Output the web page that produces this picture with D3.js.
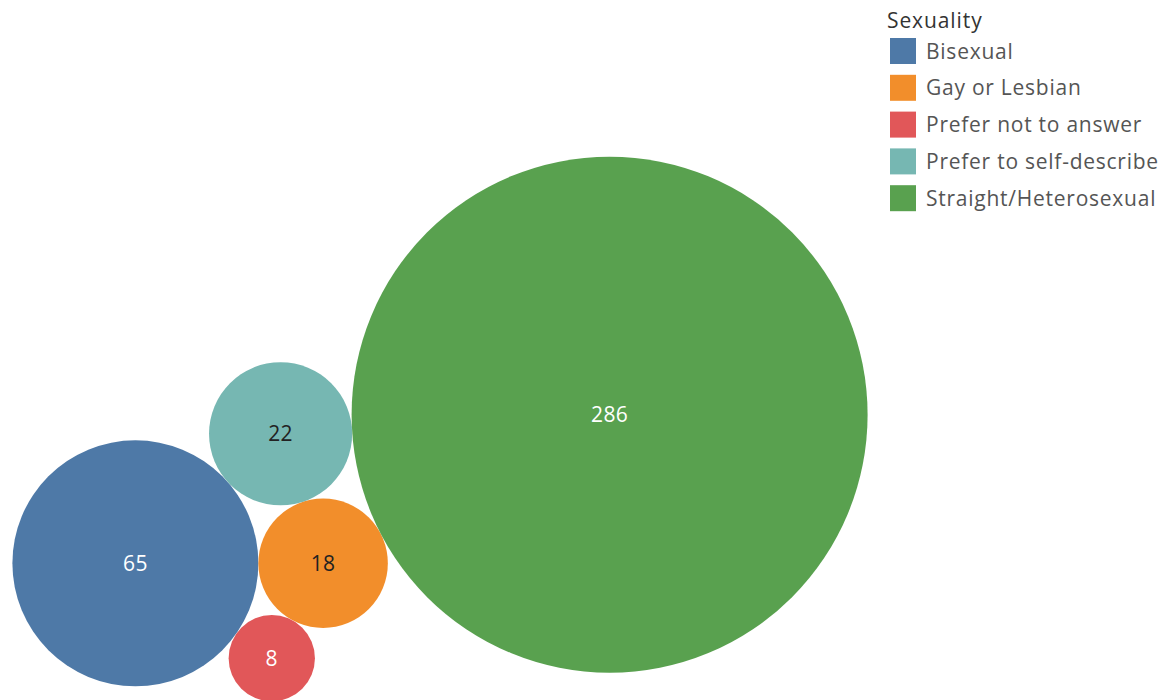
<!DOCTYPE html>
<html>
<head>
<meta charset="utf-8">
<script src="https://cdn.jsdelivr.net/npm/d3@7"></script>
<style>
  html, body { margin: 0; padding: 0; background: #fff; }
  svg { display: block; }
</style>
</head>
<body>
<svg id="chart" width="1166" height="700"></svg>
<script>
// Respondent counts by sexuality
const categories = ["Bisexual", "Gay or Lesbian", "Prefer not to answer", "Prefer to self-describe", "Straight/Heterosexual"];
const counts = [65, 18, 8, 22, 286];
const colors = ["#4e79a7", "#f28e2b", "#e15759", "#76b7b2", "#59a14f"];
const labelColors = ["#ffffff", "#222222", "#ffffff", "#222222", "#ffffff"];
const legendTitle = "Sexuality";

const svg = d3.select("#chart");
const FONT = "'Open Sans', Lato, sans-serif";

// Bubble area proportional to count
const rScale = d3.scaleSqrt().domain([0, d3.max(counts)]).range([0, 258]);

const nodes = categories.map((c, i) => ({
  name: c, value: counts[i], color: colors[i], label: labelColors[i], r: rScale(counts[i]), x: 0, y: 0
}));
const byName = Object.fromEntries(nodes.map(n => [n.name, n]));

// Place circle c tangent to circles a and b, on one side of the a->b direction
function placeTangent(a, b, c, side) {
  const dx = b.x - a.x, dy = b.y - a.y;
  const d = Math.hypot(dx, dy);
  const ra = a.r + c.r, rb = b.r + c.r;
  const along = (ra * ra - rb * rb + d * d) / (2 * d);
  const h = Math.sqrt(Math.max(0, ra * ra - along * along));
  const ux = dx / d, uy = dy / d;
  c.x = a.x + along * ux - side * h * uy;
  c.y = a.y + along * uy + side * h * ux;
}

// Packed-bubble arrangement: each bubble rests against two neighbours
const bi = byName["Bisexual"], gl = byName["Gay or Lesbian"], pn = byName["Prefer not to answer"],
      ps = byName["Prefer to self-describe"], st = byName["Straight/Heterosexual"];
bi.x = 0; bi.y = 0;
gl.x = bi.r + gl.r; gl.y = 0;
placeTangent(bi, gl, pn, 1);    // below the pair
placeTangent(bi, gl, ps, -1);   // above the pair
placeTangent(ps, gl, st, -1);   // to the right of the pair

// Centre the packed group within the plot region
const x0 = d3.min(nodes, d => d.x - d.r), x1 = d3.max(nodes, d => d.x + d.r);
const y0 = d3.min(nodes, d => d.y - d.r), y1 = d3.max(nodes, d => d.y + d.r);
const cx = 440, cy = 429;
const g = svg.append("g")
  .attr("transform", `translate(${cx - (x0 + x1) / 2},${cy - (y0 + y1) / 2})`);

const bubble = g.selectAll("g.bubble").data(nodes).join("g")
  .attr("class", "bubble")
  .attr("transform", d => `translate(${d.x},${d.y})`);

bubble.append("circle")
  .attr("r", d => d.r)
  .attr("fill", d => d.color);

bubble.append("text")
  .attr("text-anchor", "middle")
  .attr("dy", "0.36em")
  .attr("fill", d => d.label)
  .style("font-family", FONT)
  .style("font-size", "21px")
  .style("letter-spacing", "0.4px")
  .text(d => d.value);

// Legend
const legend = svg.append("g").attr("transform", "translate(887,0)");
legend.append("text")
  .attr("x", 0).attr("y", 28)
  .attr("fill", "#333")
  .style("font-family", FONT)
  .style("font-size", "21px")
  .style("letter-spacing", "0.9px")
  .text(legendTitle);

const row = legend.selectAll("g.item").data(nodes).join("g")
  .attr("class", "item")
  .attr("transform", (d, i) => `translate(3,${38 + i * 36.8})`);

row.append("rect")
  .attr("width", 26).attr("height", 26)
  .attr("fill", d => d.color);

row.append("text")
  .attr("x", 36).attr("y", 13).attr("dy", "0.36em")
  .attr("fill", "#555")
  .style("font-family", FONT)
  .style("font-size", "21px")
  .style("letter-spacing", "0.75px")
  .text(d => d.name);
</script>
</body>
</html>
